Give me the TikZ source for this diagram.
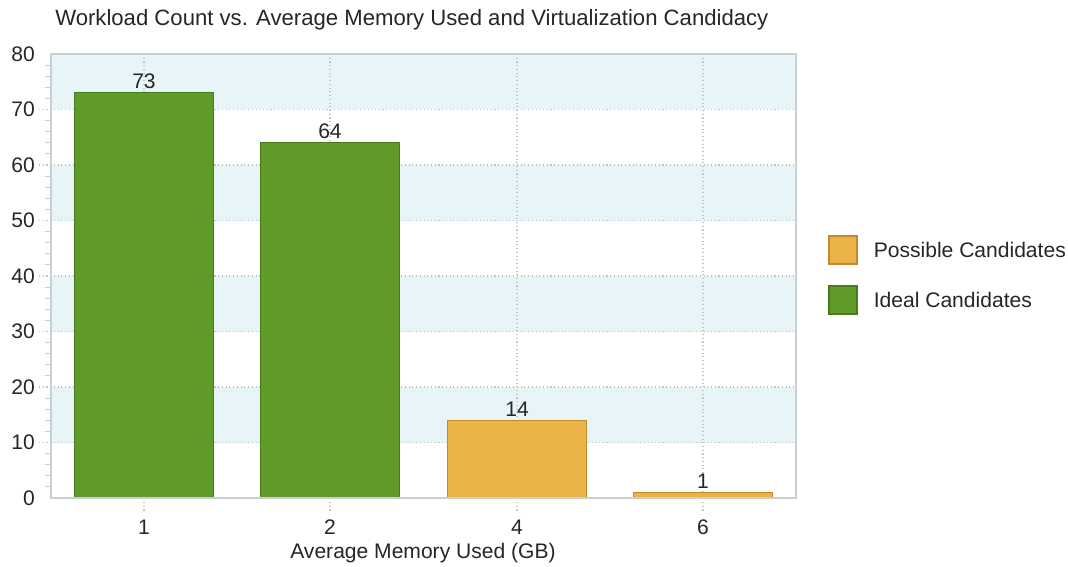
\documentclass[tikz,border=0pt]{standalone}
\usepackage{fontspec}
\setmainfont{Liberation Sans}
\usepackage{xcolor}
\definecolor{idealgreen}{RGB}{96,154,40}
\definecolor{idealedge}{RGB}{72,122,30}
\definecolor{possibleorange}{RGB}{235,178,70}
\definecolor{possibleedge}{RGB}{190,140,45}
\definecolor{bandcyan}{RGB}{232,245,248}
\definecolor{frame}{RGB}{200,208,212}
\definecolor{gridgray}{RGB}{190,195,198}
\usetikzlibrary{positioning}

\begin{document}
\begin{tikzpicture}[
    x=0.75pt, y=-0.75pt,
    font=\fontsize{15.8}{18}\selectfont,
    idealbar/.style={draw=idealedge, fill=idealgreen, line width=0.8pt},
    possiblebar/.style={draw=possibleedge, fill=possibleorange, line width=0.8pt},
    gridline/.style={draw=gridgray, dotted, line width=0.8pt},
    minortick/.style={draw=frame, line width=0.8pt},
    ticklabel/.style={inner sep=0pt, text=black!85},
    vallabel/.style={anchor=south, inner sep=3pt, text=black!85},
    legendkey/.style={minimum width=21pt, minimum height=21pt, inner sep=0pt, line width=0.8pt}
  ]
  \useasboundingbox (0,0) rectangle (1068,567);

  % Background bands of the plot area
  \foreach \lo in {10,30,50,70}
    \fill[bandcyan] (51,{498-5.55*\lo}) rectangle (796,{498-5.55*(\lo+10)});

  % Horizontal grid, major and minor ticks
  \foreach \v in {10,20,...,70}
    \draw[gridline] (39,{498-5.55*\v}) -- (796,{498-5.55*\v});
  \foreach \v in {2,4,6,8,12,14,16,18,22,24,26,28,32,34,36,38,42,44,46,48,52,54,56,58,62,64,66,68,72,74,76,78}
    \draw[minortick] (45,{498-5.55*\v}) -- (51,{498-5.55*\v});
  \foreach \v in {0,10,...,80}
    \node[ticklabel, anchor=east] (ylab\v) at (35,{498-5.55*\v}) {\v};

  % Vertical grid at the categories
  \foreach \cx in {144,330,517,703}
    \draw[gridline] (\cx,54) -- (\cx,511);

  % Bars
  \foreach \name/\cx/\val/\kind in {one/144/73/idealbar, two/330/64/idealbar, four/517/14/possiblebar, six/703/1/possiblebar}{
    \draw[\kind] (\cx-69.5,498) rectangle (\cx+69.5,{498-5.55*\val});
    \coordinate (top\name) at (\cx,{498-5.55*\val});
    \node[vallabel] (val\name) at (top\name) {\val};
  }

  % Plot frame
  \draw[frame, line width=1pt] (51,54) rectangle (796,498);

  % Category labels and titles
  \foreach \name/\cx/\lab in {one/144/1, two/330/2, four/517/4, six/703/6}
    \node[ticklabel] (xlab\name) at (\cx,527) {\lab};
  \node[ticklabel] (xtitle) at (423,553) {Average Memory Used (GB)};
  \node[ticklabel, anchor=west, font=\fontsize{16.6}{19}\selectfont] (title) at (55,20) {Workload Count vs. Average Memory Used and Virtualization Candidacy};

  % Legend
  \node[legendkey, draw=possibleedge, fill=possibleorange] (keypossible) at (843,250) {};
  \node[legendkey, draw=idealedge, fill=idealgreen] (keyideal) at (843,300) {};
  \node[ticklabel, anchor=west, right=12pt of keypossible] (txtpossible) {Possible Candidates};
  \node[ticklabel, anchor=west, right=12pt of keyideal] (txtideal) {Ideal Candidates};

\end{tikzpicture}
\end{document}
